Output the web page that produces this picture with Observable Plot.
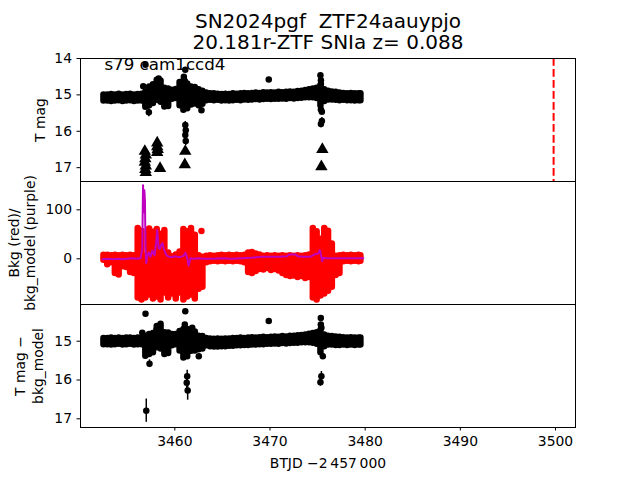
<!DOCTYPE html>
<html><head><meta charset="utf-8">
<script src="https://cdn.jsdelivr.net/npm/d3@7"></script>
<script src="https://cdn.jsdelivr.net/npm/@observablehq/plot@0.6"></script>
<style>
html,body{margin:0;padding:0;background:#fff;}
#chart{width:640px;height:480px;overflow:hidden;background:#fff;}
#chart svg{display:block;overflow:visible;}
</style></head><body><div id="chart"></div>
<script>
// ---- text ----
const title1 = "SN2024pgf  ZTF24aauypjo";
const title2 = "20.181r-ZTF SNIa z= 0.088";
const fieldLabel = "s79 cam1ccd4";
const yLabel1 = ["T mag"];
const yLabel2 = ["Bkg (red)/", "bkg_model (purple)"];
const yLabel3 = ["T mag \u2212", "bkg_model"];
const xLabel = "BTJD \u22122\u2009457\u2009000";
const xTicks = [3460, 3470, 3480, 3490, 3500];
const yTicks1 = [14, 15, 16, 17];
const yTicks2 = [0, 100];
const yTicks3 = [15, 16, 17];
const limitT = 3499.8;

// ---- light-curve envelope (bright / faint extent of the dense sampling) ----
const bandT = [3452.5, 3452.9, 3453.3, 3453.7, 3454.1, 3454.5, 3454.9, 3455.3, 3455.7, 3456.1,
  3456.5, 3456.9, 3457.3, 3457.7, 3458.1, 3458.5, 3458.9, 3459.3, 3459.7, 3460.1,
  3460.5, 3460.9, 3461.3, 3461.7, 3462.1, 3462.5, 3462.9, 3463.3, 3463.7, 3464.1,
  3464.5, 3464.9, 3465.3, 3465.7, 3466.1, 3466.5, 3466.9, 3467.3, 3467.7, 3468.1,
  3468.5, 3468.9, 3469.3, 3469.7, 3470.1, 3470.5, 3470.9, 3471.3, 3471.7, 3472.1,
  3472.5, 3472.9, 3473.3, 3473.7, 3474.1, 3474.5, 3474.9, 3475.3, 3475.7, 3476.1,
  3476.5, 3476.9, 3477.3, 3477.7, 3478.1, 3478.5, 3478.9, 3479.3, 3479.5];
const magHi = [15.00, 15.00, 14.99, 15.00, 14.98, 15.00, 14.99, 14.98, 15.00, 14.99,
  14.98, 14.93, 14.78, 14.72, 14.60, 14.62, 14.82, 14.84, 14.87, 14.85,
  14.66, 14.62, 14.70, 14.78, 14.80, 14.86, 14.90, 14.95, 14.97, 14.97,
  14.98, 14.99, 14.98, 14.99, 14.97, 14.98, 14.97, 14.96, 14.97, 14.96,
  14.95, 14.96, 14.94, 14.95, 14.94, 14.95, 14.93, 14.94, 14.93, 14.92,
  14.93, 14.91, 14.90, 14.88, 14.86, 14.84, 14.82, 14.75, 14.86, 14.90,
  14.92, 14.93, 14.95, 14.96, 14.97, 14.96, 14.97, 14.97, 14.97];
const magLo = [15.17, 15.17, 15.18, 15.17, 15.16, 15.18, 15.17, 15.16, 15.18, 15.17,
  15.17, 15.34, 15.30, 15.24, 15.15, 15.20, 15.33, 15.32, 15.12, 15.10,
  15.30, 15.42, 15.38, 15.28, 15.25, 15.30, 15.26, 15.16, 15.15, 15.16,
  15.15, 15.17, 15.16, 15.17, 15.16, 15.15, 15.16, 15.14, 15.15, 15.14,
  15.13, 15.14, 15.13, 15.12, 15.13, 15.12, 15.12, 15.11, 15.12, 15.10,
  15.11, 15.10, 15.09, 15.08, 15.08, 15.08, 15.10, 15.30, 15.18, 15.14,
  15.14, 15.15, 15.16, 15.15, 15.16, 15.16, 15.17, 15.16, 15.16];
const subHi = [14.93, 14.93, 14.92, 14.93, 14.92, 14.93, 14.92, 14.92, 14.93, 14.92,
  14.92, 14.87, 14.83, 14.80, 14.62, 14.63, 14.78, 14.79, 14.83, 14.83,
  14.75, 14.70, 14.70, 14.72, 14.76, 14.87, 14.88, 14.93, 14.94, 14.95,
  14.94, 14.95, 14.94, 14.94, 14.93, 14.93, 14.92, 14.93, 14.92, 14.91,
  14.92, 14.91, 14.90, 14.91, 14.90, 14.89, 14.90, 14.88, 14.89, 14.87,
  14.87, 14.86, 14.85, 14.84, 14.82, 14.80, 14.78, 14.72, 14.84, 14.87,
  14.88, 14.89, 14.90, 14.91, 14.92, 14.91, 14.92, 14.92, 14.92];
const subLo = [15.09, 15.09, 15.10, 15.09, 15.08, 15.10, 15.09, 15.08, 15.10, 15.09,
  15.09, 15.39, 15.34, 15.30, 15.17, 15.20, 15.34, 15.32, 15.12, 15.09,
  15.25, 15.43, 15.40, 15.26, 15.25, 15.22, 15.20, 15.12, 15.14, 15.15,
  15.15, 15.14, 15.14, 15.13, 15.13, 15.12, 15.12, 15.11, 15.11, 15.10,
  15.10, 15.09, 15.09, 15.08, 15.08, 15.07, 15.08, 15.06, 15.07, 15.06,
  15.05, 15.05, 15.04, 15.04, 15.04, 15.05, 15.08, 15.30, 15.14, 15.10,
  15.10, 15.11, 15.11, 15.10, 15.11, 15.10, 15.11, 15.10, 15.10];
const bkgHi = [7, 7, 6, 7, 6, 7, 6, 7, 6, 62,
  56, 5, 61, 54, 60, 50, 58, 12, 4, 8,
  14, 60, 55, 62, 48, 6, 3, 5, 6, 5,
  6, 7, 6, 7, 6, 7, 6, 7, 12, 13,
  10, 8, 5, 6, 5, 6, 5, 6, 5, 6,
  5, 6, 5, 6, 8, 62, 55, 40, 62, 56,
  30, 5, 6, 7, 6, 7, 6, 7, 6];
const bkgLo = [-3, -12, -8, -30, -33, -16, -18, -28, -30, -80,
  -84, -80, -74, -82, -78, -84, -70, -80, -72, -82,
  -70, -84, -78, -74, -82, -62, -58, -8, -6, -5,
  -6, -5, -6, -5, -6, -5, -6, -8, -28, -30,
  -26, -22, -23, -20, -24, -22, -25, -30, -34, -36,
  -35, -38, -36, -40, -38, -80, -84, -76, -72, -66,
  -58, -34, -30, -6, -5, -6, -5, -6, -5];

// ---- background model (purple line) ----
const modelT = [3452.4, 3453.0, 3453.5, 3454.0, 3454.5, 3455.0, 3455.5, 3456.0, 3456.4, 3456.58,
  3456.66, 3456.72, 3456.8, 3456.86, 3456.92, 3457.0, 3457.1, 3457.27, 3457.45, 3457.63,
  3457.87, 3458.05, 3458.15, 3458.3, 3458.42, 3458.6, 3458.7, 3458.85, 3459.02, 3459.2,
  3459.55, 3460.07, 3460.5, 3460.9, 3461.12, 3461.3, 3461.45, 3461.65, 3462.0, 3462.5,
  3463.0, 3464.0, 3465.0, 3466.0, 3467.0, 3468.0, 3469.0, 3470.0, 3471.0, 3471.8,
  3472.0, 3472.7, 3472.9, 3473.5, 3474.2, 3474.8, 3475.1, 3475.23, 3475.3, 3475.48,
  3475.6, 3476.0, 3477.0, 3478.0, 3479.0, 3479.8];
const modelV = [-1, 0, -1, 0, -1, 0, 1, 0, 1, 20,
  150, 95, 140, 120, 25, -9, 5, 13, 4, 17,
  7, 35, 59, 22, 20, 30, 32, 20, 11, 6,
  3, 5, 3, 6, 12, 2, -14, 1, 0, 1,
  0, 0, 1, 0, 1, 2, 4, 4, 4, 5,
  9, 9, 5, 4, 4, 10, 11, 18, 14, -5,
  2, 1, 1, 1, 1, 1];
const bkgDotT = [3462.8];
const bkgDotV = [57];

// ---- isolated detections, panel 1 ----
const dotT1 = [3456.68, 3456.92, 3457.27, 3458.3, 3460.95, 3461.1, 3461.05, 3461.1, 3461.15, 3461.1,
  3461.15, 3462.8, 3469.87, 3475.3, 3475.35, 3475.35, 3475.35, 3475.45, 3475.45, 3475.35];
const dotM1 = [14.76, 14.17, 15.48, 14.55, 14.5, 14.31, 14.62, 15.83, 15.97, 16.1,
  16.27, 15.42, 14.58, 14.46, 14.6, 14.7, 15.4, 15.46, 15.72, 15.8];
const dotE1 = [0.03, 0.03, 0.12, 0.04, 0.04, 0.04, 0.04, 0.1, 0.1, 0.12,
  0.12, 0.05, 0.03, 0.04, 0.04, 0.04, 0.06, 0.06, 0.1, 0.1];
// upper limits (triangles)
const limT = [3456.85, 3456.95, 3456.9, 3456.85, 3456.95, 3456.9, 3456.95, 3458.15, 3458.15, 3458.2,
  3458.15, 3458.45, 3461.1, 3461.05, 3475.5, 3475.4];
const limM = [16.55, 16.65, 16.75, 16.85, 16.95, 17.05, 17.13, 16.32, 16.42, 16.5,
  16.58, 17.02, 16.55, 16.92, 16.5, 16.97];

// ---- isolated detections, panel 3 ----
const dotT3 = [3456.58, 3456.92, 3458.08, 3458.5, 3461.05, 3461.1, 3461.83, 3457.34, 3461.3, 3461.25,
  3461.35, 3457.0, 3462.52, 3469.87, 3475.34, 3475.34, 3475.4, 3475.55, 3475.4, 3475.3];
const dotM3 = [14.78, 14.29, 14.7, 14.55, 14.57, 14.23, 14.65, 15.58, 15.9, 16.07,
  16.27, 16.79, 15.39, 14.48, 14.4, 14.57, 14.65, 15.39, 15.9, 16.06];
const dotE3 = [0.03, 0.04, 0.04, 0.04, 0.04, 0.04, 0.04, 0.1, 0.15, 0.15,
  0.25, 0.3, 0.05, 0.03, 0.04, 0.04, 0.04, 0.06, 0.12, 0.1];

// ---- tables ----
const band1 = bandT.map((t, i) => ({t, hi: magHi[i], lo: magLo[i]}));
const band3 = bandT.map((t, i) => ({t, hi: subHi[i], lo: subLo[i]}));
const band2 = bandT.map((t, i) => ({t, hi: bkgHi[i], lo: bkgLo[i]}));
const model = modelT.map((t, i) => ({t, v: modelV[i]}));
const bkgDots = bkgDotT.map((t, i) => ({t, v: bkgDotV[i]}));
const dots1 = dotT1.map((t, i) => ({t, m: dotM1[i], e: dotE1[i]}));
const dots3 = dotT3.map((t, i) => ({t, m: dotM3[i], e: dotE3[i]}));
const lims = limT.map((t, i) => ({t, m: limM[i]}));

const FONT = "'DejaVu Sans', sans-serif";
const style = {fontFamily: FONT, fontSize: "13.9px", color: "black", background: "transparent", overflow: "visible"};
const xDomain = [3450.09, 3502.1];
const intFmt = d3.format("d");
const common = {width: 640, marginLeft: 80, marginRight: 65, style};

function yLabels(lines, offsets) {
  return lines.map((s, i) => Plot.text([s], {text: d => d, frameAnchor: "left", dx: offsets[i], rotate: -90,
    textAnchor: "middle", lineAnchor: "middle"}));
}

const p1 = Plot.plot({
  ...common, height: 181, marginTop: 58, marginBottom: 0,
  x: {domain: xDomain, axis: null},
  y: {domain: [14, 17.38], reverse: true, ticks: yTicks1, tickFormat: intFmt, tickSize: 3.5, tickPadding: 5, label: null},
  marks: [
    Plot.ruleX(band1, {x: "t", y1: "hi", y2: "lo", stroke: "black", strokeWidth: 6.5, strokeLinecap: "round"}),
    Plot.ruleX(dots1, {x: "t", y1: d => d.m - d.e, y2: d => d.m + d.e, stroke: "black", strokeWidth: 1.5}),
    Plot.dot(dots1, {x: "t", y: "m", r: 3.25, fill: "black"}),
    Plot.dot(lims, {x: "t", y: "m", r: 4.6, symbol: "triangle", fill: "black"}),
    Plot.ruleX([limitT], {x: d => d, stroke: "red", strokeWidth: 2, strokeDasharray: "7.7,3.3"}),
    Plot.text([fieldLabel], {text: d => d, x: () => 3452.6, y: () => 14.32, textAnchor: "start", lineAnchor: "bottom", fontSize: 16.7}),
    Plot.text([title1], {text: d => d, frameAnchor: "top", dy: -30.5, lineAnchor: "bottom", fontSize: 20}),
    Plot.text([title2], {text: d => d, frameAnchor: "top", dy: -9.7, lineAnchor: "bottom", fontSize: 20}),
    ...yLabels(yLabel1, [-40]),
    Plot.frame({stroke: "black"})
  ]
});

const p2 = Plot.plot({
  ...common, height: 123, marginTop: 0, marginBottom: 0,
  x: {domain: xDomain, axis: null},
  y: {domain: [-93.3, 157.8], ticks: yTicks2, tickFormat: intFmt, tickSize: 3.5, tickPadding: 5, label: null},
  marks: [
    Plot.ruleX(band2, {x: "t", y1: "hi", y2: "lo", stroke: "#ff0000", strokeWidth: 6.5, strokeLinecap: "round"}),
    Plot.dot(bkgDots, {x: "t", y: "v", r: 3.25, fill: "#ff0000"}),
    Plot.line(model, {x: "t", y: "v", stroke: "#bf00bf", strokeWidth: 2}),
    ...yLabels(yLabel2, [-66, -50]),
    Plot.frame({stroke: "black"})
  ]
});

const p3 = Plot.plot({
  ...common, height: 176, marginTop: 0, marginBottom: 53,
  x: {domain: xDomain, ticks: xTicks, tickSize: 3.5, tickPadding: 5, tickFormat: intFmt, label: null},
  y: {domain: [14.054, 17.224], reverse: true, ticks: yTicks3, tickFormat: intFmt, tickSize: 3.5, tickPadding: 5, label: null},
  marks: [
    Plot.ruleX(band3, {x: "t", y1: "hi", y2: "lo", stroke: "black", strokeWidth: 6.5, strokeLinecap: "round"}),
    Plot.ruleX(dots3, {x: "t", y1: d => d.m - d.e, y2: d => d.m + d.e, stroke: "black", strokeWidth: 1.5}),
    Plot.dot(dots3, {x: "t", y: "m", r: 3.25, fill: "black"}),
    ...yLabels(yLabel3, [-60, -42]),
    Plot.text([xLabel], {text: d => d, frameAnchor: "bottom", dy: 36, lineAnchor: "middle"}),
    Plot.frame({stroke: "black"})
  ]
});

const chart = document.getElementById("chart");
chart.append(p1, p2, p3);
</script></body></html>
